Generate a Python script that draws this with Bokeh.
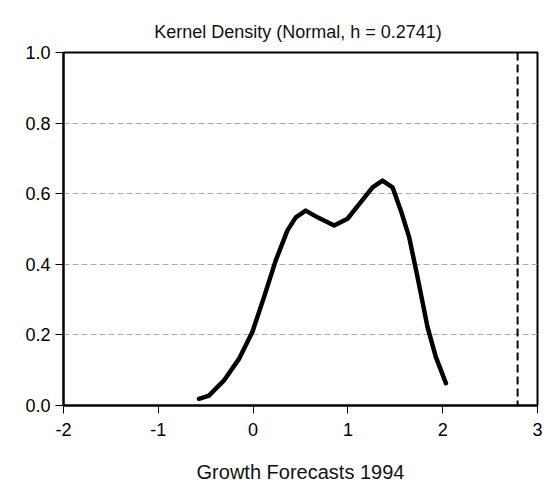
from bokeh.plotting import figure
from bokeh.embed import file_html
from bokeh.resources import INLINE
from bokeh.models import Range1d, FixedTicker, Span, NumeralTickFormatter

# Data
x_vals = [-0.571, -0.466, -0.307, -0.149, -0.008, 0.115, 0.239, 0.362, 0.45, 0.555,
          0.679, 0.855, 0.996, 1.136, 1.26, 1.365, 1.471, 1.559, 1.646, 1.735,
          1.84, 1.928, 2.034]
density = [0.019, 0.028, 0.071, 0.132, 0.208, 0.307, 0.411, 0.496, 0.533, 0.552,
           0.533, 0.510, 0.529, 0.576, 0.618, 0.637, 0.618, 0.552, 0.477, 0.363,
           0.222, 0.137, 0.063]
ref_value = 2.79
x_ticks = [-2, -1, 0, 1, 2, 3]
x_tick_labels = ["-2", "-1", "0", "1", "2", "3"]
y_ticks = [0.0, 0.2, 0.4, 0.6, 0.8, 1.0]
title_text = "Kernel Density (Normal, h =  0.2741)"

FONT = "Liberation Sans"

p = figure(width=544, height=485, output_backend="svg", toolbar_location=None,
           x_range=Range1d(-2, 3), y_range=Range1d(0, 1),
           min_border_left=63, min_border_right=7, min_border_top=52, min_border_bottom=80)

xax = p.below[0]
yax = p.left[0]

p.title.text = title_text
p.title.align = "center"
p.title.text_font = FONT
p.title.text_font_size = "18px"
p.title.text_font_style = "normal"
p.title.text_color = "#111111"
p.title.standoff = 22

p.outline_line_color = "black"
p.outline_line_width = 2
p.background_fill_color = "white"
p.border_fill_color = "white"

p.xgrid.grid_line_color = None
p.ygrid.grid_line_color = "#aaaaaa"
p.ygrid.grid_line_dash = "6 3"
p.ygrid.grid_line_width = 1
p.ygrid.ticker = FixedTicker(ticks=[0.2, 0.4, 0.6, 0.8])

for ax in (xax, yax):
    ax.axis_line_color = "black"
    ax.axis_line_width = 2
    ax.major_tick_line_color = "black"
    ax.major_tick_line_width = 1
    ax.major_tick_in = 0
    ax.major_tick_out = 8
    ax.minor_tick_line_color = None
    ax.major_label_text_font = FONT
    ax.major_label_text_font_size = "18px"
    ax.major_label_text_color = "black"

xax.ticker = FixedTicker(ticks=x_ticks)
xax.major_label_overrides = {k: v for k, v in zip(x_ticks, x_tick_labels)}
yax.ticker = FixedTicker(ticks=y_ticks)
yax.formatter = NumeralTickFormatter(format="0.0")
xax.major_label_standoff = 9
yax.major_label_standoff = 5

xax.axis_label = "Growth Forecasts 1994"
xax.axis_label_text_font = FONT
xax.axis_label_text_font_size = "20px"
xax.axis_label_text_font_style = "normal"
xax.axis_label_text_color = "#111111"
xax.axis_label_standoff = 22

p.line(x_vals, density, line_color="black", line_width=4.5, line_join="round", line_cap="round")

vline = Span(location=ref_value, dimension="height", line_color="black",
             line_width=2, line_dash="8 4")
p.add_layout(vline)

open("out.html", "w").write(file_html(p, INLINE))
